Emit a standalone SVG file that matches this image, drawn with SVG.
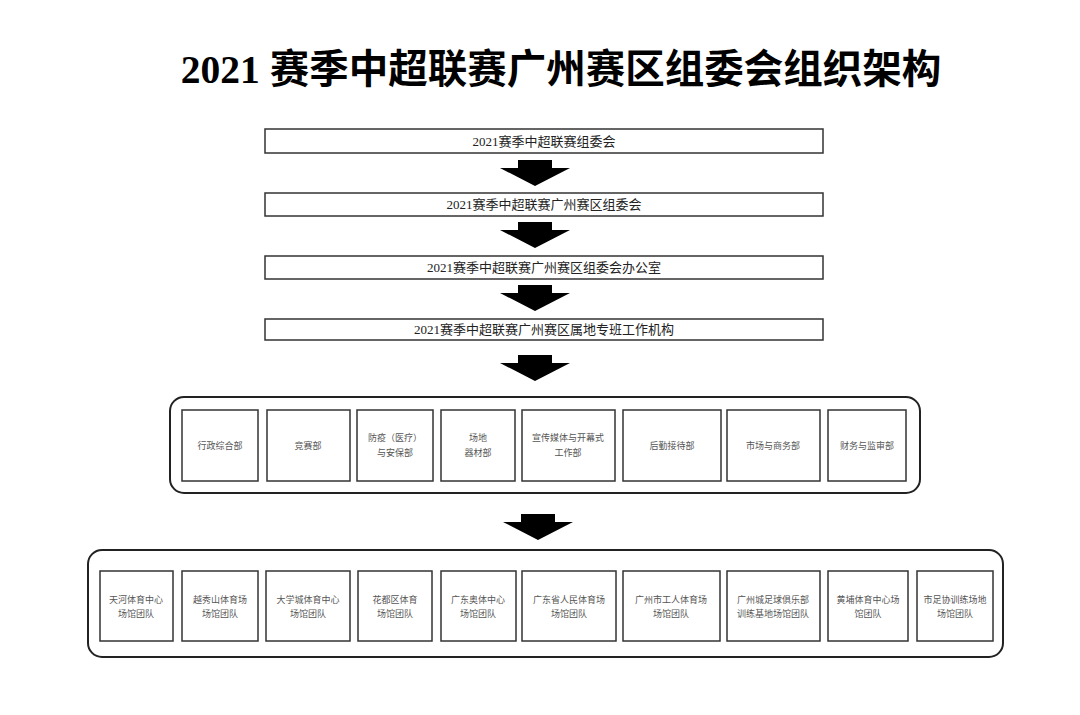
<svg xmlns="http://www.w3.org/2000/svg" width="1080" height="715" viewBox="0 0 1080 715">
<style>
.b{fill:#fff;stroke:#333;stroke-width:1.5}
.f{fill:none;stroke:#222;stroke-width:2}
.t{font-family:"Liberation Serif","Noto Sans CJK SC",serif;font-size:13px;fill:#222;text-anchor:middle}
.s{font-family:"Liberation Sans","Noto Sans CJK SC",sans-serif;font-size:9px;fill:#555;text-anchor:middle}
.a{fill:#000}
</style>
<defs><path id="ar" d="M-17,0 H17 V8 H35 L0,26 L-35,8 H-17 Z"/></defs>
<rect width="1080" height="715" fill="#fff"/>
<text x="561" y="83" style="font-family:'Liberation Serif','Noto Sans CJK SC',serif;font-size:39.5px;font-weight:bold;text-anchor:middle;fill:#000">2021 赛季中超联赛广州赛区组委会组织架构</text>
<g id="connectors">
<use href="#ar" x="535" y="160" class="a"/>
<use href="#ar" x="535" y="222" class="a"/>
<use href="#ar" x="535" y="285" class="a"/>
<use href="#ar" x="535" y="355" class="a"/>
<use href="#ar" x="538" y="514" class="a"/>
</g>
<g id="n1"><rect class="b" x="265" y="129" width="558" height="24"/><text class="t" x="544" y="146">2021赛季中超联赛组委会</text></g>
<g id="n2"><rect class="b" x="265" y="193" width="558" height="23"/><text class="t" x="544" y="209">2021赛季中超联赛广州赛区组委会</text></g>
<g id="n3"><rect class="b" x="265" y="256" width="558" height="23"/><text class="t" x="544" y="272">2021赛季中超联赛广州赛区组委会办公室</text></g>
<g id="n4"><rect class="b" x="265" y="319" width="558" height="21"/><text class="t" x="544" y="334">2021赛季中超联赛广州赛区属地专班工作机构</text></g>
<g id="frame1"><rect class="f" x="170" y="397" width="750" height="96" rx="14"/></g>
<g id="d1"><rect class="b" x="182" y="410" width="76" height="71"/><text class="s" x="220" y="449">行政综合部</text></g>
<g id="d2"><rect class="b" x="267" y="410" width="83" height="71"/><text class="s" x="308" y="449">竞赛部</text></g>
<g id="d3"><rect class="b" x="357" y="410" width="76" height="71"/><text class="s" x="395" y="441">防疫（医疗）</text><text class="s" x="395" y="456">与安保部</text></g>
<g id="d4"><rect class="b" x="441" y="410" width="74" height="71"/><text class="s" x="478" y="441">场地</text><text class="s" x="478" y="456">器材部</text></g>
<g id="d5"><rect class="b" x="522" y="410" width="93" height="71"/><text class="s" x="568" y="441">宣传媒体与开幕式</text><text class="s" x="568" y="456">工作部</text></g>
<g id="d6"><rect class="b" x="623" y="410" width="98" height="71"/><text class="s" x="672" y="449">后勤接待部</text></g>
<g id="d7"><rect class="b" x="727" y="410" width="93" height="71"/><text class="s" x="773" y="449">市场与商务部</text></g>
<g id="d8"><rect class="b" x="828" y="410" width="78" height="71"/><text class="s" x="867" y="449">财务与监审部</text></g>
<g id="frame2"><rect class="f" x="88" y="550" width="915" height="107" rx="14"/></g>
<g id="v1"><rect class="b" x="100" y="571" width="73" height="70"/><text class="s" x="136" y="603">天河体育中心</text><text class="s" x="136" y="617">场馆团队</text></g>
<g id="v2"><rect class="b" x="182" y="571" width="76" height="70"/><text class="s" x="220" y="603">越秀山体育场</text><text class="s" x="220" y="617">场馆团队</text></g>
<g id="v3"><rect class="b" x="266" y="571" width="84" height="70"/><text class="s" x="308" y="603">大学城体育中心</text><text class="s" x="308" y="617">场馆团队</text></g>
<g id="v4"><rect class="b" x="358" y="571" width="74" height="70"/><text class="s" x="395" y="603">花都区体育</text><text class="s" x="395" y="617">场馆团队</text></g>
<g id="v5"><rect class="b" x="441" y="571" width="75" height="70"/><text class="s" x="478" y="603">广东奥体中心</text><text class="s" x="478" y="617">场馆团队</text></g>
<g id="v6"><rect class="b" x="522" y="571" width="94" height="70"/><text class="s" x="569" y="603">广东省人民体育场</text><text class="s" x="569" y="617">场馆团队</text></g>
<g id="v7"><rect class="b" x="623" y="571" width="97" height="70"/><text class="s" x="671" y="603">广州市工人体育场</text><text class="s" x="671" y="617">场馆团队</text></g>
<g id="v8"><rect class="b" x="727" y="571" width="93" height="70"/><text class="s" x="773" y="603">广州城足球俱乐部</text><text class="s" x="773" y="617">训练基地场馆团队</text></g>
<g id="v9"><rect class="b" x="828" y="571" width="80" height="70"/><text class="s" x="868" y="603">黄埔体育中心场</text><text class="s" x="868" y="617">馆团队</text></g>
<g id="v10"><rect class="b" x="917" y="571" width="76" height="70"/><text class="s" x="955" y="603">市足协训练场地</text><text class="s" x="955" y="617">场馆团队</text></g>
</svg>
